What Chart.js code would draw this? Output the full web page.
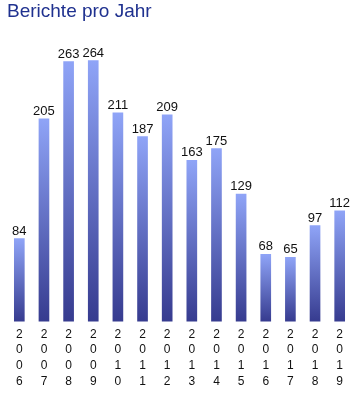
<!DOCTYPE html>
<html>
<head>
<meta charset="utf-8">
<script src="https://cdn.jsdelivr.net/npm/chart.js@4/dist/chart.umd.min.js"></script>
<style>
html,body{margin:0;padding:0;background:#fff;}
#wrap{width:357px;height:395px;position:relative;}
</style>
</head>
<body>
<div id="wrap"><canvas id="c" width="357" height="395"></canvas></div>
<script>
const years = ['2006','2007','2008','2009','2010','2011','2012','2013','2014','2015','2016','2017','2018','2019'];
const reports = [84, 205, 263, 264, 211, 187, 209, 163, 175, 129, 68, 65, 97, 112];
const chartTitle = 'Berichte pro Jahr';

const FONT = '"Liberation Sans", Arial, sans-serif';

const valueLabels = {
  id: 'valueLabels',
  afterDatasetsDraw(chart) {
    const ctx = chart.ctx;
    const meta = chart.getDatasetMeta(0);
    ctx.save();
    ctx.font = '13px ' + FONT;
    ctx.fillStyle = '#111';
    ctx.textAlign = 'center';
    ctx.textBaseline = 'bottom';
    meta.data.forEach((el, i) => {
      ctx.fillText(String(reports[i]), el.x, el.y - 1);
    });
    ctx.restore();
  }
};

new Chart(document.getElementById('c'), {
  type: 'bar',
  data: {
    labels: years,
    datasets: [{
      data: reports,
      barThickness: 10,
      borderWidth: 0,
      backgroundColor: (c) => {
        const chart = c.chart;
        if (!chart.chartArea || c.type !== 'data') return '#6a7ad0';
        const ys = chart.scales.y;
        const top = ys.getPixelForValue(c.raw);
        const bottom = ys.getPixelForValue(0);
        const g = chart.ctx.createLinearGradient(0, top, 0, bottom);
        g.addColorStop(0, '#8fa4f7');
        g.addColorStop(1, '#363b8f');
        return g;
      }
    }]
  },
  options: {
    responsive: false,
    animation: false,
    layout: { padding: { left: 7, right: 5, top: 0, bottom: 1 } },
    plugins: {
      legend: { display: false },
      tooltip: { enabled: false },
      title: {
        display: true,
        text: chartTitle,
        align: 'start',
        color: '#1f318f',
        font: { family: FONT, size: 19, weight: 'normal' },
        padding: { top: 0, bottom: 12 }
      }
    },
    scales: {
      x: {
        grid: { display: false, drawTicks: false },
        border: { display: false },
        ticks: {
          autoSkip: false,
          maxRotation: 0,
          minRotation: 0,
          padding: 5,
          color: '#111',
          font: { family: FONT, size: 12, lineHeight: 1.3 },
          callback: (v, i) => years[i].split('')
        }
      },
      y: {
        display: false,
        min: 0,
        max: 290
      }
    }
  },
  plugins: [valueLabels]
});
</script>
</body>
</html>
